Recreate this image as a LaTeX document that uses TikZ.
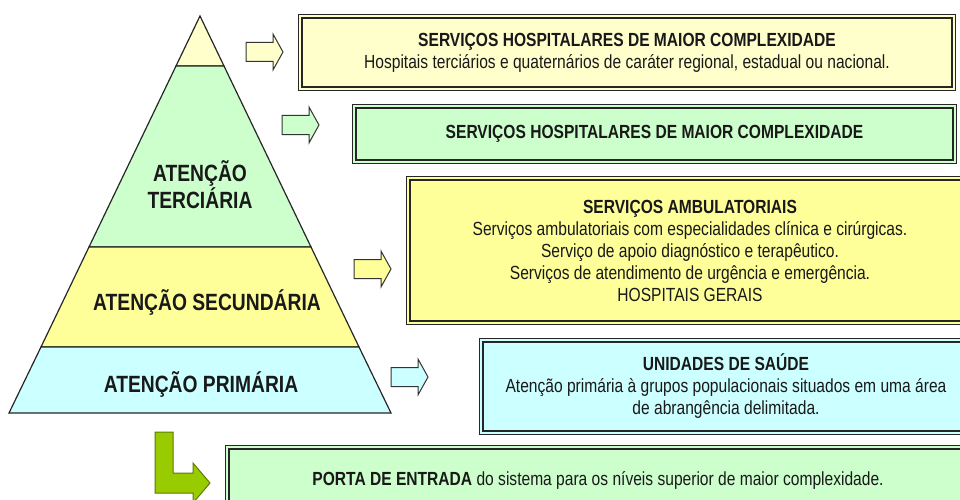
\documentclass[tikz,border=0pt]{standalone}
\usepackage{fontspec}
\setmainfont{Liberation Sans}[FakeStretch=0.82]
\definecolor{topyel}{HTML}{FFFFCC}
\definecolor{tergreen}{HTML}{CCFFCC}
\definecolor{secyel}{HTML}{FFFF99}
\definecolor{pricyan}{HTML}{CCFFFF}
\definecolor{entgreen}{HTML}{99CC00}

\begin{document}
\begin{tikzpicture}[x=1pt,y=-1pt,
    level/.style={draw=black!85,line width=1.2pt,fill=#1},
    servbox/.style={draw=black!85,double=#1,fill=#1,line width=1.4pt,double distance=1.8pt,
      align=center,inner sep=0pt,text=black!90,font=\fontsize{19}{22}\selectfont},
    pyrlabel/.style={align=center,text=black!90,font=\fontsize{23.5}{25}\selectfont\bfseries},
    blockarrow/.style={draw=black!80,line width=1pt,fill=#1}]
    \useasboundingbox (0,0) rectangle (960,500);
    \clip (0,0) rectangle (960,500);
    % pyramid
    \filldraw[level=topyel] (200,16) -- (224,66) -- (176,66) -- cycle;
    \filldraw[level=tergreen] (176,66) -- (224,66) -- (311,247) -- (89,247) -- cycle;
    \filldraw[level=secyel] (89,247) -- (311,247) -- (359,347) -- (41,347) -- cycle;
    \filldraw[level=pricyan] (41,347) -- (359,347) -- (391,413) -- (9,413) -- cycle;
    \node[pyrlabel] (terciaria) at (200,185) {ATENÇÃO\\TERCIÁRIA};
    \node[pyrlabel] (secundaria) at (207,302) {ATENÇÃO SECUNDÁRIA};
    \node[pyrlabel] (primaria) at (201,384) {ATENÇÃO PRIMÁRIA};
    % arrows
    \foreach \x/\y/\c in {246/52/topyel,282/125/tergreen,354/269/secyel,391/377/pricyan}
      \filldraw[blockarrow=\c] (\x,\y-9.5) -- ++(27,0) -- ++(0,-8.5) -- ++(10,18)
        -- ++(-10,18) -- ++(0,-8.5) -- ++(-27,0) -- cycle;
    \filldraw[draw=entgreen!60!black,line width=1pt,fill=entgreen] (155,432) -- (173,432)
      -- (173,473) -- (193,473) -- (193,463) -- (210,483) -- (193,503) -- (193,493)
      -- (155,493) -- cycle;
    % boxes
    \node[servbox=topyel,minimum width=653.4pt,minimum height=72.4pt] (hospmaior) at (627,52.5)
      {\bfseries SERVIÇOS HOSPITALARES DE MAIOR COMPLEXIDADE\\
       Hospitais terciários e quaternários de caráter regional, estadual ou nacional.};
    \node[servbox=tergreen,minimum width=600.4pt,minimum height=55.4pt] (hospcompl) at (654.5,134)
      {\bfseries SERVIÇOS HOSPITALARES DE MAIOR COMPLEXIDADE};
    \node[servbox=secyel,minimum width=563.4pt,minimum height=144.4pt] (ambulat) at (690,250.5)
      {{\bfseries SERVIÇOS AMBULATORIAIS}\\
       Serviços ambulatoriais com especialidades clínica e cirúrgicas.\\
       Serviço de apoio diagnóstico e terapêutico.\\
       Serviços de atendimento de urgência e emergência.\\
       HOSPITAIS GERAIS};
    \node[servbox=pricyan,minimum width=489.4pt,minimum height=92.4pt] (unidades) at (726,386.5)
      {{\bfseries UNIDADES DE SAÚDE}\\
       Atenção primária à grupos populacionais situados em uma área\\
       de abrangência delimitada.};
    \node[servbox=tergreen,minimum width=741.4pt,minimum height=65.4pt] (entrada) at (598,480)
      {{\bfseries PORTA DE ENTRADA} do sistema para os níveis superior de maior complexidade.};
\end{tikzpicture}
\end{document}
